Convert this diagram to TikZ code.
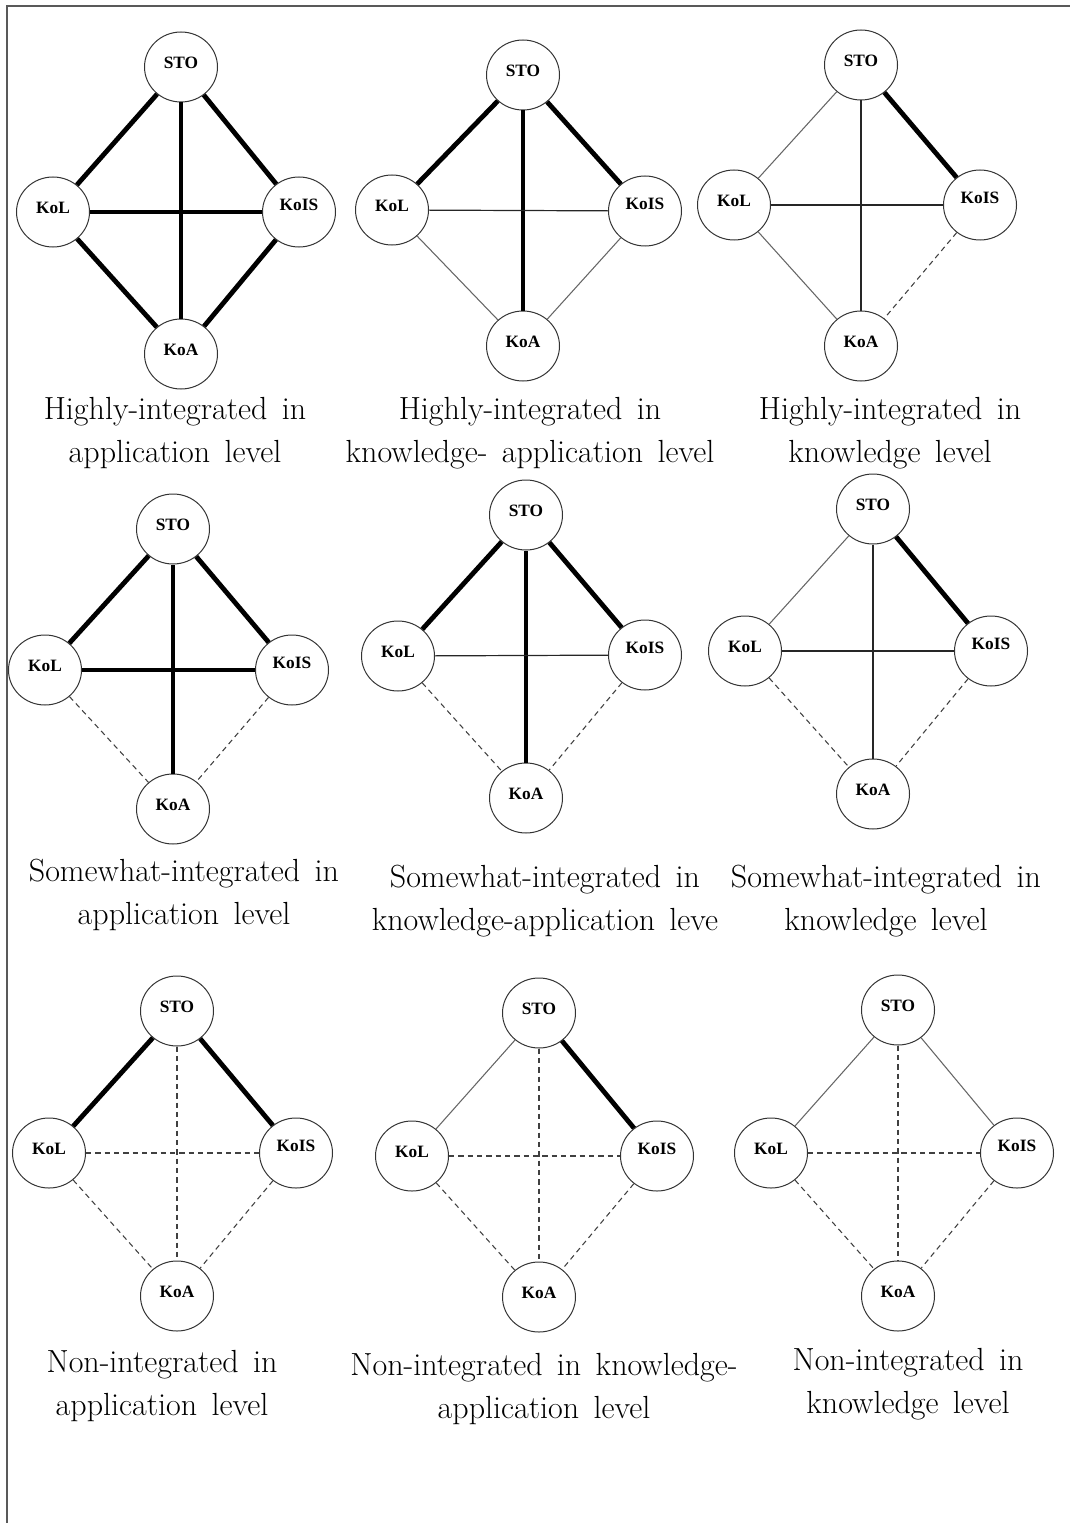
\documentclass[tikz,border=0pt]{standalone}
\usepackage{fontspec}
\newfontfamily\lblfont{Liberation Serif}
\usepackage{tikz}
\usetikzlibrary{shapes.geometric}

\newcommand{\captfont}{\fontsize{24}{32}\selectfont\spaceskip 0.45em\relax}

\tikzset{
  kn/.style={ellipse, draw=black!80, line width=0.75pt, minimum width=54.75pt, minimum height=52.5pt, inner sep=0pt, font=\lblfont\bfseries\fontsize{13}{14}\selectfont, text height=9pt, text depth=7pt},
  knr/.style={kn, text depth=11pt},
  linkhigh/.style={line width=3.6pt},
  linkmid/.style={line width=0.9pt, black!85},
  linklow/.style={line width=0.8pt, black!60},
  linknone/.style={line width=0.8pt, black!75, dash pattern=on 4pt off 3pt},
  capt/.style={align=center, inner sep=0pt, font=\captfont}
}

\begin{document}
\begin{tikzpicture}[x=0.75pt,y=-0.75pt]
\useasboundingbox (0,0) rectangle (1070,1523);
\draw[black!65, line width=1.5pt] (7,1523) -- (7,6) -- (1070,6);

\node[kn] (sto1) at (181,67) {STO};
\node[kn] (kol1) at (53,212) {KoL};
\node[knr] (kois1) at (299,212) {KoIS};
\node[kn] (koa1) at (181,354) {KoA};
\draw[linkhigh] (sto1) -- (kol1);
\draw[linkhigh] (sto1) -- (kois1);
\draw[linkhigh] (sto1) -- (koa1);
\draw[linkhigh] (kol1) -- (kois1);
\draw[linkhigh] (kol1) -- (koa1);
\draw[linkhigh] (kois1) -- (koa1);
\node[capt] (cap1) at (175,433) {Highly-integrated in\\application level};

\node[kn] (sto2) at (523,75) {STO};
\node[kn] (kol2) at (392,210) {KoL};
\node[knr] (kois2) at (645,211) {KoIS};
\node[kn] (koa2) at (523,346) {KoA};
\draw[linkhigh] (sto2) -- (kol2);
\draw[linkhigh] (sto2) -- (kois2);
\draw[linkhigh] (sto2) -- (koa2);
\draw[linkmid] (kol2) -- (kois2);
\draw[linklow] (kol2) -- (koa2);
\draw[linklow] (kois2) -- (koa2);
\node[capt] (cap2) at (530,433) {Highly-integrated in\\knowledge- application level};

\node[kn] (sto3) at (861,65) {STO};
\node[kn] (kol3) at (734,205) {KoL};
\node[knr] (kois3) at (980,205) {KoIS};
\node[kn] (koa3) at (861,346) {KoA};
\draw[linklow] (sto3) -- (kol3);
\draw[linkhigh] (sto3) -- (kois3);
\draw[linkmid] (sto3) -- (koa3);
\draw[linkmid] (kol3) -- (kois3);
\draw[linklow] (kol3) -- (koa3);
\draw[linknone] (kois3) -- (koa3);
\node[capt] (cap3) at (890,433) {Highly-integrated in\\knowledge level};

\node[kn] (sto4) at (173,529) {STO};
\node[kn] (kol4) at (45,670) {KoL};
\node[knr] (kois4) at (292,670) {KoIS};
\node[kn] (koa4) at (173,809) {KoA};
\draw[linkhigh] (sto4) -- (kol4);
\draw[linkhigh] (sto4) -- (kois4);
\draw[linkhigh] (sto4) -- (koa4);
\draw[linkhigh] (kol4) -- (kois4);
\draw[linknone] (kol4) -- (koa4);
\draw[linknone] (kois4) -- (koa4);
\node[capt] (cap4) at (184,895) {Somewhat-integrated in\\application level};

\node[kn] (sto5) at (526,515) {STO};
\node[kn] (kol5) at (398,656) {KoL};
\node[knr] (kois5) at (645,655) {KoIS};
\node[kn] (koa5) at (526,798) {KoA};
\draw[linkhigh] (sto5) -- (kol5);
\draw[linkhigh] (sto5) -- (kois5);
\draw[linkhigh] (sto5) -- (koa5);
\draw[linkmid] (kol5) -- (kois5);
\draw[linknone] (kol5) -- (koa5);
\draw[linknone] (kois5) -- (koa5);
\node[capt] (cap5) at (545,901) {Somewhat-integrated in\\knowledge-application leve};

\node[kn] (sto6) at (873,509) {STO};
\node[kn] (kol6) at (745,651) {KoL};
\node[knr] (kois6) at (991,651) {KoIS};
\node[kn] (koa6) at (873,794) {KoA};
\draw[linklow] (sto6) -- (kol6);
\draw[linkhigh] (sto6) -- (kois6);
\draw[linkmid] (sto6) -- (koa6);
\draw[linkmid] (kol6) -- (kois6);
\draw[linknone] (kol6) -- (koa6);
\draw[linknone] (kois6) -- (koa6);
\node[capt] (cap6) at (886,901) {Somewhat-integrated in\\knowledge level};

\node[kn] (sto7) at (177,1011) {STO};
\node[kn] (kol7) at (49,1153) {KoL};
\node[knr] (kois7) at (296,1153) {KoIS};
\node[kn] (koa7) at (177,1296) {KoA};
\draw[linkhigh] (sto7) -- (kol7);
\draw[linkhigh] (sto7) -- (kois7);
\draw[linknone] (sto7) -- (koa7);
\draw[linknone] (kol7) -- (kois7);
\draw[linknone] (kol7) -- (koa7);
\draw[linknone] (kois7) -- (koa7);
\node[capt] (cap7) at (162,1386) {Non-integrated in\\application level};

\node[kn] (sto8) at (539,1013) {STO};
\node[kn] (kol8) at (412,1156) {KoL};
\node[knr] (kois8) at (657,1156) {KoIS};
\node[kn] (koa8) at (539,1297) {KoA};
\draw[linklow] (sto8) -- (kol8);
\draw[linkhigh] (sto8) -- (kois8);
\draw[linknone] (sto8) -- (koa8);
\draw[linknone] (kol8) -- (kois8);
\draw[linknone] (kol8) -- (koa8);
\draw[linknone] (kois8) -- (koa8);
\node[capt] (cap8) at (544,1389) {Non-integrated in knowledge-\\application level};

\node[kn] (sto9) at (898,1010) {STO};
\node[kn] (kol9) at (771,1153) {KoL};
\node[knr] (kois9) at (1017,1153) {KoIS};
\node[kn] (koa9) at (898,1296) {KoA};
\draw[linklow] (sto9) -- (kol9);
\draw[linklow] (sto9) -- (kois9);
\draw[linknone] (sto9) -- (koa9);
\draw[linknone] (kol9) -- (kois9);
\draw[linknone] (kol9) -- (koa9);
\draw[linknone] (kois9) -- (koa9);
\node[capt] (cap9) at (908,1384) {Non-integrated in\\knowledge level};
\end{tikzpicture}
\end{document}
